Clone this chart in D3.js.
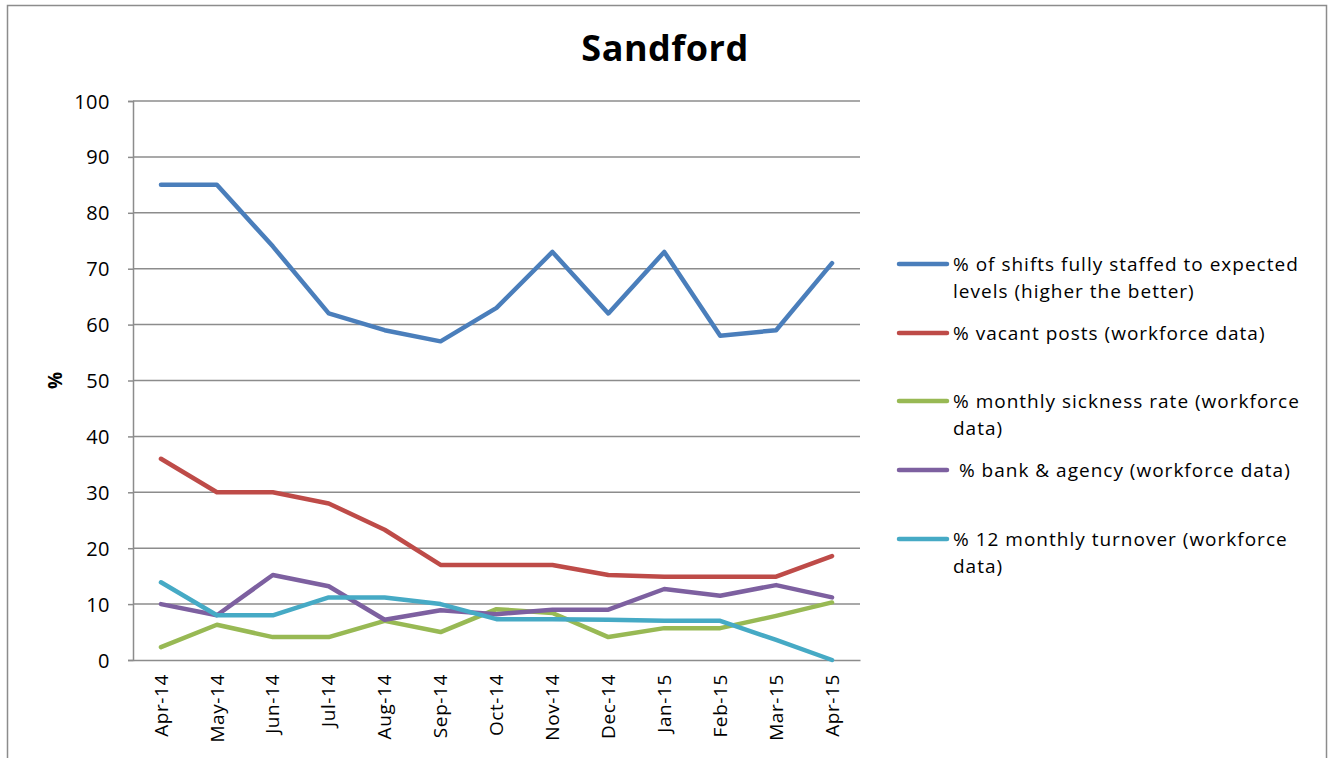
<!DOCTYPE html>
<html>
<head>
<meta charset="utf-8">
<script src="https://cdn.jsdelivr.net/npm/d3@7"></script>
<style>
  body { margin: 0; background: #fff; }
  svg text { font-family: "Open Sans", "DejaVu Sans", sans-serif; fill: #000; }
</style>
</head>
<body>
<div id="chart"></div>
<script>
const months = ["Apr-14", "May-14", "Jun-14", "Jul-14", "Aug-14", "Sep-14", "Oct-14",
                "Nov-14", "Dec-14", "Jan-15", "Feb-15", "Mar-15", "Apr-15"];

const shiftsStaffed = [85, 85, 74, 62, 59, 57, 63, 73, 62, 73, 58, 59, 71];
const vacantPosts   = [36, 30, 30, 28, 23.3, 17, 17, 17, 15.2, 14.9, 14.9, 14.9, 18.6];
const sicknessRate  = [2.3, 6.3, 4.1, 4.1, 7.0, 5.0, 9.1, 8.4, 4.1, 5.7, 5.7, 7.9, 10.3];
const bankAgency    = [10.0, 8.0, 15.2, 13.2, 7.2, 8.9, 8.2, 9.0, 9.0, 12.7, 11.5, 13.4, 11.2];
const turnover      = [13.9, 8.0, 8.0, 11.2, 11.2, 10.0, 7.3, 7.3, 7.2, 7.0, 7.0, 3.6, 0];

const yTicks = [0, 10, 20, 30, 40, 50, 60, 70, 80, 90, 100];

const seriesNames = [
  ["% of shifts fully staffed to expected", "levels (higher the better)"],
  ["% vacant posts (workforce data)"],
  ["% monthly sickness rate (workforce", "data)"],
  [" % bank & agency (workforce data)"],
  ["% 12 monthly turnover (workforce", "data)"]
];
const seriesValues = [shiftsStaffed, vacantPosts, sicknessRate, bankAgency, turnover];
const colors = ["#4a7ebb", "#be4b48", "#98b954", "#7d60a0", "#46aac5"];

const W = 1334, H = 758;
const plot = { left: 133, right: 860, top: 101, bottom: 660 };

const svg = d3.select("#chart")
    .append("svg")
    .attr("width", W)
    .attr("height", H);

// outer chart border
svg.append("rect")
    .attr("x", 7.5).attr("y", 5.5)
    .attr("width", 1319).attr("height", 770)
    .attr("fill", "none")
    .attr("stroke", "#8c8c8c")
    .attr("stroke-width", 1.5);

const x = d3.scaleBand()
    .domain(months)
    .range([plot.left, plot.right]);

const y = d3.scaleLinear()
    .domain([0, 100])
    .range([plot.bottom, plot.top]);

// gridlines
svg.append("g")
    .selectAll("line")
    .data(yTicks.filter(d => d > 0))
    .join("line")
    .attr("x1", plot.left).attr("x2", plot.right)
    .attr("y1", d => y(d)).attr("y2", d => y(d))
    .attr("stroke", "#8c8c8c")
    .attr("stroke-width", 1.5);

// y axis
const yAxis = svg.append("g")
    .attr("transform", `translate(${plot.left},0)`)
    .call(d3.axisLeft(y).tickValues(yTicks).tickSize(5).tickPadding(18));
yAxis.select(".domain").attr("stroke", "#8c8c8c").attr("stroke-width", 1.5);
yAxis.selectAll(".tick line").attr("stroke", "#8c8c8c").attr("stroke-width", 1.5);
yAxis.selectAll("text")
    .style("font-size", "20px")
    .style("letter-spacing", "0.5px")
    .attr("dy", "0.35em");

// x axis
const xAxis = svg.append("g")
    .attr("transform", `translate(0,${plot.bottom})`)
    .call(d3.axisBottom(x).tickSize(0).tickPadding(0));
xAxis.select(".domain").attr("stroke", "#8c8c8c").attr("stroke-width", 1.5);
xAxis.selectAll("text")
    .style("font-size", "19px")
    .style("letter-spacing", "0.6px")
    .style("text-anchor", "end")
    .attr("transform", "rotate(-90)")
    .attr("x", -14)
    .attr("y", 0)
    .attr("dy", "0.35em");

// axis title
svg.append("text")
    .attr("transform", `translate(55,${(plot.top + plot.bottom) / 2}) rotate(-90)`)
    .attr("text-anchor", "middle")
    .attr("dy", "0.35em")
    .style("font-size", "19px")
    .style("font-weight", "bold")
    .text("%");

// title
svg.append("text")
    .attr("x", 665)
    .attr("y", 61)
    .attr("text-anchor", "middle")
    .style("font-size", "36px")
    .style("letter-spacing", "0.5px")
    .style("font-weight", "bold")
    .text("Sandford");

// lines
const line = d3.line()
    .x((d, i) => x(months[i]) + x.bandwidth() / 2)
    .y(d => y(d));

svg.append("g")
    .selectAll("path")
    .data(seriesValues)
    .join("path")
    .attr("d", d => line(d))
    .attr("fill", "none")
    .attr("stroke", (d, i) => colors[i])
    .attr("stroke-width", 4.5)
    .attr("stroke-linejoin", "round")
    .attr("stroke-linecap", "round");

// legend
const legendY = [264, 333, 401, 470, 539];
const legend = svg.append("g");
seriesNames.forEach((lines, i) => {
  const g = legend.append("g").attr("transform", `translate(0,${legendY[i]})`);
  g.append("line")
      .attr("x1", 899).attr("x2", 947)
      .attr("stroke", colors[i])
      .attr("stroke-width", 4.5)
      .attr("stroke-linecap", "round");
  lines.forEach((t, j) => {
    g.append("text")
        .attr("x", 953)
        .attr("y", j * 27)
        .attr("dy", "0.35em")
        .attr("xml:space", "preserve")
        .style("white-space", "pre")
        .style("font-size", "19px")
        .style("letter-spacing", "1px")
        .text(t);
  });
});
</script>
</body>
</html>
